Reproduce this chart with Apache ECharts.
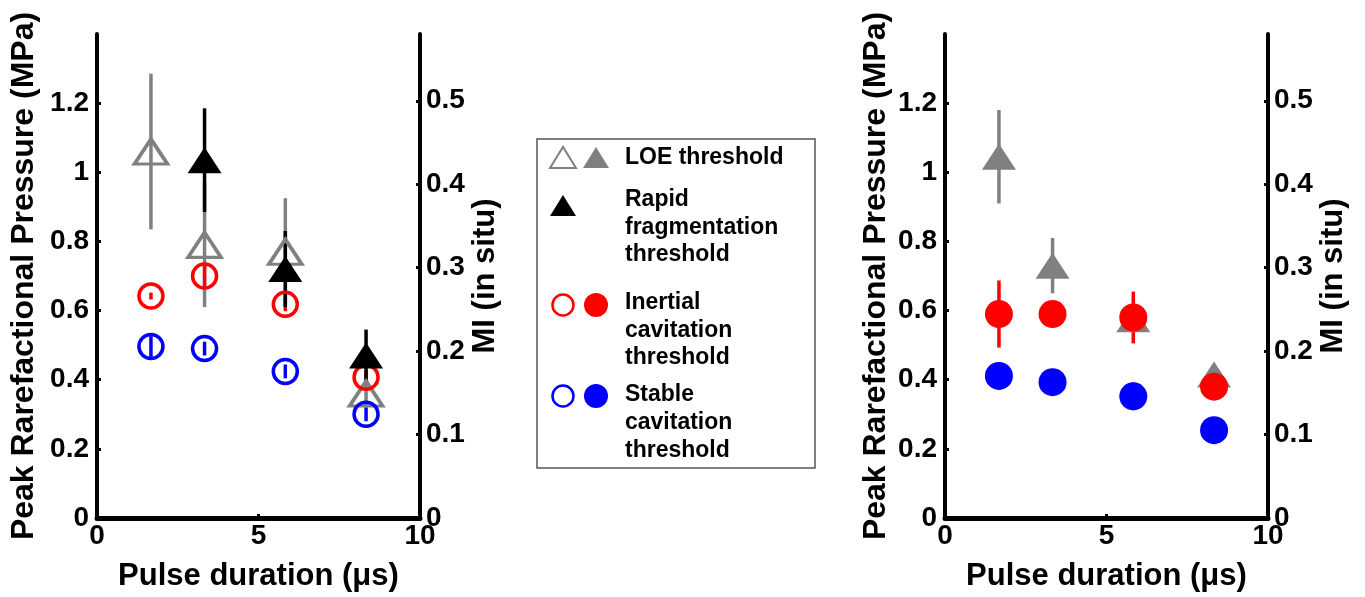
<!DOCTYPE html>
<html>
<head>
<meta charset="utf-8">
<script src="https://cdn.jsdelivr.net/npm/echarts@6/dist/echarts.min.js"></script>
<style>
html,body{margin:0;padding:0;background:#fff;}
#chart{width:1365px;height:597px;}
</style>
</head>
<body>
<div id="chart"></div>
<script>
// ---- data ----
const pulseDurations = [1.67, 3.33, 5.83, 8.33];
const xTicks = [0, 5, 10];
// left panel (open symbols)
const loeOpen      = [1.06, 0.79, 0.77, 0.36];
const loeOpenErr   = [0.225, 0.18, 0.155, 0.04];
const rapidFrag    = [null, 1.035, 0.72, 0.47];
const rapidFragErr = [null, 0.15, 0.11, 0.075];
const inertialOpen    = [0.642, 0.70, 0.618, 0.407];
const inertialOpenErr = [0.01, 0.03, 0.02, 0.02];
const stableOpen    = [0.496, 0.49, 0.424, 0.30];
const stableOpenErr = [0.03, 0.02, 0.02, 0.02];
// right panel (filled symbols)
const loeFilled    = [1.045, 0.73, 0.575, 0.415];
const loeFilledErr = [0.135, 0.08, 0.02, 0.03];
const inertialFilled    = [0.59, 0.59, 0.58, 0.38];
const inertialFilledErr = [0.097, 0.01, 0.075, 0.01];
const stableFilled    = [0.411, 0.393, 0.352, 0.254];
const stableFilledErr = [0.04, 0.03, 0.04, 0.0];
// axis ranges
const pressureMax = 1.4, pressureStep = 0.2;
const miMax = 0.58, miStep = 0.1;
const legendLabels = [
  ['LOE threshold'],
  ['Rapid', 'fragmentation', 'threshold'],
  ['Inertial', 'cavitation', 'threshold'],
  ['Stable', 'cavitation', 'threshold']
];

// ---- styling helpers ----
const FONT = '"Liberation Sans", Arial, Helvetica, sans-serif';
const GRAY = '#808080', RED = '#ff0000', BLUE = '#0000ff', BLACK = '#000000';

function pts(vals) {
  return pulseDurations.map((x, i) => vals[i] == null ? null : [x, vals[i]]).filter(d => d);
}
function errPts(vals, errs) {
  return pulseDurations.map((x, i) => vals[i] == null ? null : [x, vals[i] - errs[i], vals[i] + errs[i]]).filter(d => d);
}
function errSeries(grid, vals, errs, color) {
  return {
    type: 'custom', xAxisIndex: grid, yAxisIndex: grid * 2,
    data: errPts(vals, errs), encode: { x: 0, y: [1, 2] }, silent: true,
    renderItem: function (params, api) {
      const p1 = api.coord([api.value(0), api.value(1)]);
      const p2 = api.coord([api.value(0), api.value(2)]);
      return { type: 'line', shape: { x1: p1[0], y1: p1[1], x2: p2[0], y2: p2[1] },
               style: { stroke: color, lineWidth: 3.5, opacity: 1 } };
    }
  };
}
function scat(grid, vals, symbol, size, color, open) {
  return {
    type: 'scatter', xAxisIndex: grid, yAxisIndex: grid * 2, data: pts(vals),
    symbol: symbol, symbolSize: size, silent: true,
    itemStyle: open ? { color: 'rgba(0,0,0,0)', borderColor: color, borderWidth: 3.5, opacity: 1 }
                    : { color: color, borderWidth: 0, opacity: 1 },
    emphasis: { disabled: true }
  };
}

const labelStyle = { fontFamily: FONT, fontWeight: 'bold', fontSize: 28, color: '#000' };
const nameStyle  = { fontFamily: FONT, fontWeight: 'bold', fontSize: 31, color: '#000' };

function xAx(grid) {
  return {
    gridIndex: grid, type: 'value', min: xTicks[0], max: xTicks[xTicks.length - 1], interval: xTicks[1] - xTicks[0],
    name: 'Pulse duration (\u03bcs)', nameLocation: 'middle', nameGap: 43, nameTextStyle: nameStyle,
    axisLine: { onZero: false, lineStyle: { color: '#000', width: 5 } },
    axisTick: { inside: true, length: 4, lineStyle: { color: '#000', width: 3 } },
    axisLabel: Object.assign({ margin: 4 }, labelStyle),
    splitLine: { show: false }
  };
}
function yLeft(grid, gap) {
  return {
    gridIndex: grid, type: 'value', position: 'left', min: 0, max: pressureMax, interval: pressureStep,
    name: 'Peak Rarefactional Pressure (MPa)', nameLocation: 'middle', nameGap: gap, nameRotate: 90,
    nameTextStyle: Object.assign({}, nameStyle, { fontSize: 32 }),
    axisLine: { show: true, onZero: false, lineStyle: { color: '#000', width: 4 } },
    axisTick: { show: true, inside: true, length: 4, lineStyle: { color: '#000', width: 3 } },
    axisLabel: Object.assign({ margin: 8, showMaxLabel: false }, labelStyle),
    splitLine: { show: false }
  };
}
function yRight(grid, gap) {
  return {
    gridIndex: grid, type: 'value', position: 'right', min: 0, max: miMax, interval: miStep,
    name: 'MI (in situ)', nameLocation: 'middle', nameGap: gap, nameRotate: 90,
    nameTextStyle: nameStyle,
    axisLine: { show: true, onZero: false, lineStyle: { color: '#000', width: 4 } },
    axisTick: { show: true, inside: true, length: 4, lineStyle: { color: '#000', width: 3 } },
    axisLabel: Object.assign({ margin: 6, showMaxLabel: false }, labelStyle),
    splitLine: { show: false }
  };
}

// ---- legend box built as graphics ----
const LX = 537, LY = 139, LW = 278, LH = 329;
const textX = 625;
const lineYs = [[158], [200, 228, 255], [303, 331, 358], [395, 423, 451]];
const legendGraphics = [
  { type: 'rect', shape: { x: LX, y: LY, width: LW, height: LH }, style: { fill: '#fff', stroke: '#555', lineWidth: 1.5 }, silent: true },
  { type: 'polygon', shape: { points: [[550, 168], [576, 168], [563, 147]] }, style: { fill: '#fff', stroke: GRAY, lineWidth: 2 } },
  { type: 'polygon', shape: { points: [[583, 168], [609, 168], [596, 147]] }, style: { fill: GRAY } },
  { type: 'polygon', shape: { points: [[550, 216], [576, 216], [563, 195]] }, style: { fill: BLACK } },
  { type: 'circle', shape: { cx: 563, cy: 305, r: 10.5 }, style: { fill: '#fff', stroke: RED, lineWidth: 2.5 } },
  { type: 'circle', shape: { cx: 596, cy: 305, r: 12 }, style: { fill: RED } },
  { type: 'circle', shape: { cx: 563, cy: 396, r: 10.5 }, style: { fill: '#fff', stroke: BLUE, lineWidth: 2.5 } },
  { type: 'circle', shape: { cx: 596, cy: 396, r: 12 }, style: { fill: BLUE } }
];
legendLabels.forEach((lines, i) => {
  lines.forEach((t, j) => {
    legendGraphics.push({ type: 'text', x: textX, y: lineYs[i][j],
      style: { text: t, fontFamily: FONT, fontWeight: 'bold', fontSize: 23, fill: '#000', textVerticalAlign: 'middle' } });
  });
});

const chart = echarts.init(document.getElementById('chart'), null, { renderer: 'canvas' });
chart.setOption({
  animation: false,
  backgroundColor: '#fff',
  grid: [
    { left: 97, right: 945, top: 34, bottom: 77, containLabel: false },
    { left: 945, right: 97, top: 34, bottom: 77, containLabel: false }
  ],
  xAxis: [xAx(0), xAx(1)],
  yAxis: [yLeft(0, 57), yRight(0, 50), yLeft(1, 53), yRight(1, 50)],
  series: [
    errSeries(0, loeOpen, loeOpenErr, GRAY),
    scat(0, loeOpen, 'triangle', [33, 25], GRAY, true),
    errSeries(0, inertialOpen, inertialOpenErr, RED),
    scat(0, inertialOpen, 'circle', 24, RED, true),
    errSeries(0, stableOpen, stableOpenErr, BLUE),
    scat(0, stableOpen, 'circle', 24, BLUE, true),
    errSeries(0, rapidFrag, rapidFragErr, BLACK),
    scat(0, rapidFrag, 'triangle', [34, 26], BLACK, false),

    errSeries(1, loeFilled, loeFilledErr, GRAY),
    scat(1, loeFilled, 'triangle', [34, 26], GRAY, false),
    errSeries(1, inertialFilled, inertialFilledErr, RED),
    scat(1, inertialFilled, 'circle', 28, RED, false),
    errSeries(1, stableFilled, stableFilledErr, BLUE),
    scat(1, stableFilled, 'circle', 28, BLUE, false)
  ],
  graphic: legendGraphics
});
</script>
</body>
</html>
